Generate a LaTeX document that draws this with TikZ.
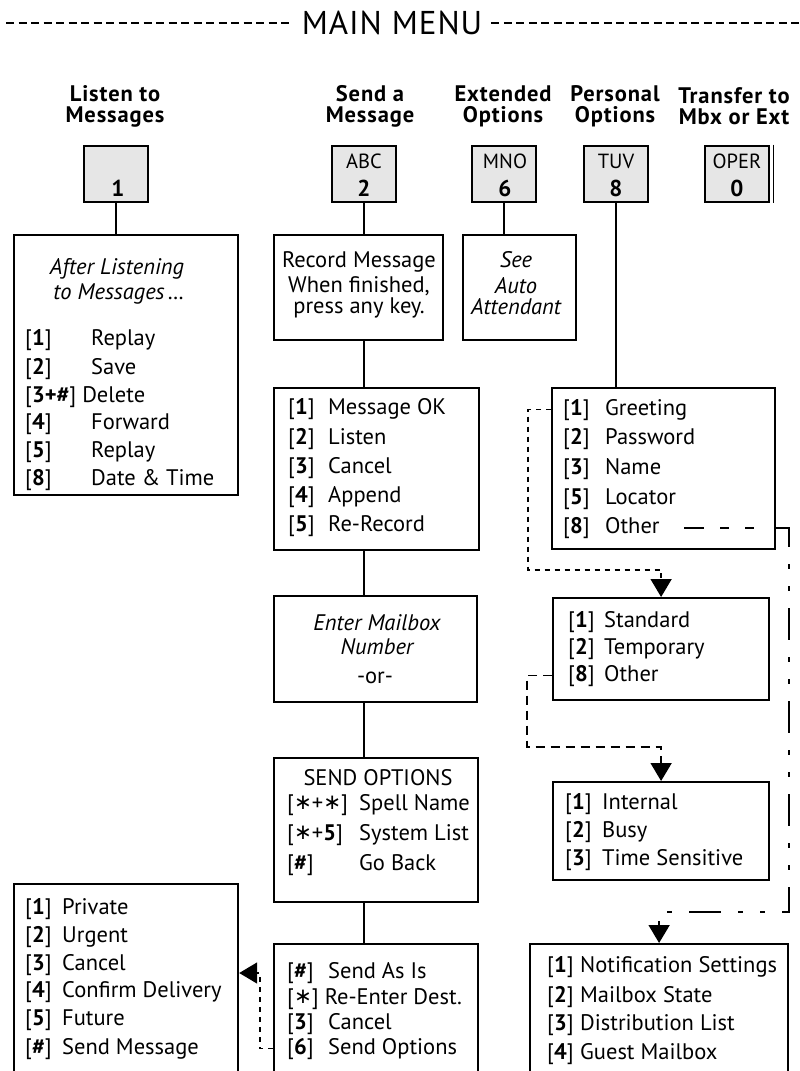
\documentclass[tikz,border=0pt]{standalone}
\usepackage{fontspec}
\setmainfont{PT Sans}
\newfontfamily\symfont{DejaVu Sans}
\newfontfamily\headfont[LetterSpace=4]{PT Sans}
\newfontfamily\hdrfont[LetterSpace=3]{PT Sans}
\usetikzlibrary{arrows.meta}
\newcommand\kb[1]{[\textbf{#1}]}
\newcommand\li[3]{\makebox[#1pt][l]{\kb{#2}}#3}
\newcommand\stx{{\symfont\raisebox{1pt}{\scalebox{0.95}{∗}}}}
\tikzset{
  x=1pt, y=-1pt,
  box/.style={draw, line width=2.2pt, inner sep=0pt, anchor=north west},
  key/.style={draw, line width=2.6pt, inner sep=0pt, minimum width=64pt, minimum height=56pt, fill={rgb,255:red,230;green,230;blue,230}},
  txt/.style={anchor=base west, inner sep=0pt, font=\fontsize{22.5}{26}\selectfont},
  ctr/.style={anchor=base, inner sep=0pt, font=\fontsize{22.5}{26}\selectfont},
  ictr/.style={anchor=base, inner sep=0pt, font=\fontsize{22.5}{26}\selectfont\itshape},
  head/.style={align=center, inner sep=0pt, font=\headfont\fontsize{22.5}{21}\selectfont\bfseries},
  keyl/.style={anchor=base, inner sep=0pt, font=\fontsize{20.5}{20}\selectfont},
  keyd/.style={anchor=base, inner sep=0pt, font=\fontsize{23}{22}\selectfont\bfseries},
  conn/.style={line width=2.2pt},
  fined/.style={line width=1.6pt, dash pattern=on 5pt off 5pt},
  medd/.style={line width=1.8pt, dash pattern=on 9pt off 6pt},
  ddot/.style={line width=1.8pt, dash pattern=on 32pt off 17pt on 5pt off 17pt on 5pt off 17pt},
  tip/.style={-{Triangle[length=18pt,width=21pt]}},
}
\begin{document}
\begin{tikzpicture}
\clip (0,0) rectangle (800,1071);
\fill[white] (0,0) rectangle (800,1071);

% header
\node[inner sep=9pt, font=\hdrfont\fontsize{33}{33}\selectfont] (hdr) at (392,23) {MAIN MENU};
\coordinate (hl) at (6,23);
\coordinate (hr) at (800,23);
\draw[line width=1.8pt, dash pattern=on 8pt off 4.5pt] (hl) -- (hdr.west);
\draw[line width=1.8pt, dash pattern=on 8pt off 4.5pt] (hdr.east) -- (hr);

% headings
\node[head] (h1) at (115,106) {Listen to\\Messages};
\node[head] (h2) at (370,106) {Send a\\Message};
\node[head] (h6) at (503,106) {Extended\\Options};
\node[head] (h8) at (615,106) {Personal\\Options};
\node[head] (h0) at (734,106) {Transfer to\\Mbx or Ext};

% keys
\node[key] (k1) at (116,174) {};
\node[keyd] (k1d) at (118,196) {1};
\node[key] (k2) at (364,174) {};
\node[keyl] (k2l) at (364,168) {ABC};
\node[keyd] (k2d) at (364,196) {2};
\node[key] (k6) at (504,174) {};
\node[keyl] (k6l) at (505,168) {MNO};
\node[keyd] (k6d) at (505,196) {6};
\node[key] (k8) at (616,174) {};
\node[keyl] (k8l) at (616,168) {TUV};
\node[keyd] (k8d) at (616,196) {8};
\node[key] (k0) at (737,174) {};
\node[keyl] (k0l) at (737,168) {OPER};
\node[keyd] (k0d) at (737,196) {0};
\draw[line width=1pt] ([xshift=3pt]k0.north east) -- ([xshift=3pt]k0.south east);

% boxes
\node[box, minimum width=224pt, minimum height=260pt] (after) at (13,234) {};
\node[box, minimum width=169pt, minimum height=105pt] (rec) at (273,234) {};
\node[box, minimum width=113pt, minimum height=105pt] (see) at (462,234) {};
\node[box, minimum width=205pt, minimum height=162pt] (msg) at (273,387) {};
\node[box, minimum width=223pt, minimum height=161pt] (greet) at (551,387) {};
\node[box, minimum width=216pt, minimum height=102pt] (std) at (552,597) {};
\node[box, minimum width=203pt, minimum height=106pt] (enter) at (273,595) {};
\node[box, minimum width=216pt, minimum height=98pt] (intl) at (552,781) {};
\node[box, minimum width=204pt, minimum height=144pt] (sopt) at (273,757) {};
\node[box, minimum width=224pt, minimum height=210pt] (priv) at (13,883) {};
\node[box, minimum width=204pt, minimum height=150pt] (sas) at (273,943) {};
\node[box, minimum width=258pt, minimum height=150pt] (notif) at (529,943) {};

% After listening
\node[ictr] (a0) at (117,274) {After Listening};
\node[ictr] (a00) at (119,299) {to Messages\,\ldots};
\node[txt] (a1) at (25,345) {\li{66}{1}{Replay}};
\node[txt] (a2) at (25,374) {\li{66}{2}{Save}};
\node[txt] (a3) at (25,402) {\kb{3+\#}\ Delete};
\node[txt] (a4) at (25,429) {\li{66}{4}{Forward}};
\node[txt] (a5) at (25,457) {\li{66}{5}{Replay}};
\node[txt] (a8) at (25,485) {\li{66}{8}{Date \& Time}};

% record
\node[ctr] (r1) at (359,267) {Record Message};
\node[ctr] (r2) at (359,292) {When finished,};
\node[ctr] (r3) at (359,313) {press any key.};

% see auto
\node[ictr] (s1) at (516,267) {See};
\node[ictr] (s2) at (516,293) {Auto};
\node[ictr] (s3) at (516,314) {Attendant};

% message ok
\node[txt] (m1) at (288,414) {\li{40}{1}{Message OK}};
\node[txt] (m2) at (288,444) {\li{40}{2}{Listen}};
\node[txt] (m3) at (288,473) {\li{40}{3}{Cancel}};
\node[txt] (m4) at (288,502) {\li{40}{4}{Append}};
\node[txt] (m5) at (288,531) {\li{40}{5}{Re-Record}};

% greeting
\node[txt] (g1) at (563,415) {\li{42}{1}{Greeting}};
\node[txt] (g2) at (563,444) {\li{42}{2}{Password}};
\node[txt] (g3) at (563,474) {\li{42}{3}{Name}};
\node[txt] (g5) at (563,504) {\li{42}{5}{Locator}};
\node[txt] (g8) at (563,533) {\li{42}{8}{Other}};

% standard
\node[txt] (t1) at (568,627) {\li{36}{1}{Standard}};
\node[txt] (t2) at (568,654) {\li{36}{2}{Temporary}};
\node[txt] (t8) at (568,681) {\li{36}{8}{Other}};

% enter mailbox
\node[ictr] (e1) at (377,630) {Enter Mailbox};
\node[ictr] (e2) at (377,654) {Number};
\node[ctr] (e3) at (375,683) {-or-};

% send options
\node[ctr] (o0) at (378,785) {SEND OPTIONS};
\node[txt] (o1) at (287,810) {\makebox[72pt][l]{[\stx+\stx]}Spell Name};
\node[txt] (o2) at (287,840) {\makebox[72pt][l]{[\stx+\textbf{5}]}System List};
\node[txt] (o3) at (287,870) {\li{72}{\#}{Go Back}};

% internal
\node[txt] (i1) at (565,809) {\li{37}{1}{Internal}};
\node[txt] (i2) at (565,837) {\li{37}{2}{Busy}};
\node[txt] (i3) at (565,865) {\li{37}{3}{Time Sensitive}};

% private
\node[txt] (p1) at (25,914) {\li{37}{1}{Private}};
\node[txt] (p2) at (25,942) {\li{37}{2}{Urgent}};
\node[txt] (p3) at (25,970) {\li{37}{3}{Cancel}};
\node[txt] (p4) at (25,997) {\li{37}{4}{Confirm Delivery}};
\node[txt] (p5) at (25,1025) {\li{37}{5}{Future}};
\node[txt] (p6) at (25,1054) {\li{37}{\#}{Send Message}};

% send as is
\node[txt] (q1) at (287,978) {\li{41}{\#}{Send As Is}};
\node[txt] (q2) at (287,1004) {[\stx]\ Re-Enter Dest.};
\node[txt] (q3) at (287,1029) {\li{41}{3}{Cancel}};
\node[txt] (q6) at (287,1054) {\li{41}{6}{Send Options}};

% notification
\node[txt] (n1) at (547,972) {\li{33}{1}{Notification Settings}};
\node[txt] (n2) at (547,1002) {\li{33}{2}{Mailbox State}};
\node[txt] (n3) at (547,1030) {\li{33}{3}{Distribution List}};
\node[txt] (n4) at (547,1059) {\li{33}{4}{Guest Mailbox}};

% solid connectors
\draw[conn] (k1.south) -- (k1.south |- after.north);
\draw[conn] (k2.south) -- (k2.south |- rec.north);
\draw[conn] (k6.south) -- (k6.south |- see.north);
\draw[conn] (k8.south) -- (k8.south |- greet.north);
\draw[conn] (k2.south |- rec.south) -- (k2.south |- msg.north);
\draw[conn] (k2.south |- msg.south) -- (k2.south |- enter.north);
\draw[conn] (k2.south |- enter.south) -- (k2.south |- sopt.north);
\draw[conn] (k2.south |- sopt.south) -- (k2.south |- sas.north);

% dashed connectors
\coordinate (c1) at (528,570);
\draw[fined, tip] (greet.west |- g1.west) -- (c1 |- g1.west) -- (c1) -- (c1 -| std.north) -- (std.north);

\coordinate (c2) at (527,747);
\draw[medd, tip] (std.west |- t8.west) -- (c2 |- t8.west) -- (c2) -- (c2 -| intl.north) -- (intl.north);

\coordinate (c3) at (789,912);
\coordinate (c5) at (684,528);
\draw[line width=1.8pt, dash pattern=on 20pt off 16pt on 9pt off 16pt on 9pt off 20pt] (c5) -- (greet.east |- c5);
\draw[ddot, tip] (greet.east |- c5) -- (c3 |- c5) -- (c3) -- (c3 -| notif.north) -- (notif.north);

\coordinate (c4) at (260,973);
\draw[fined, tip] (sas.west |- q6.west) -- (c4 |- q6.west) -- (c4) -- (c4 -| priv.east);
\end{tikzpicture}
\end{document}
